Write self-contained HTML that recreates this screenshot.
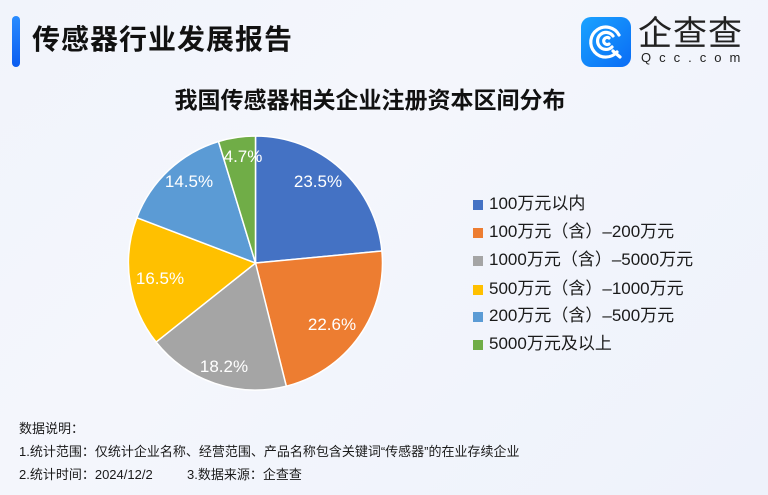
<!DOCTYPE html>
<html><head><meta charset="utf-8">
<style>
html,body{margin:0;padding:0}
body{width:768px;height:495px;overflow:hidden;position:relative;
background:linear-gradient(135deg,#f1f4fb 0%,#f4f6fc 40%,#eef2fb 100%);
font-family:"Liberation Sans","Noto Sans CJK SC",sans-serif;color:#111}
.t{position:absolute;white-space:nowrap}
.leg{position:absolute;left:473px;font-size:17px;color:#1a1a1a}
.leg i{position:absolute;left:0;top:5px;width:10px;height:10px}
.leg span{position:absolute;left:16px;top:-1px;white-space:nowrap;line-height:20px}
</style></head><body>
<div style="position:absolute;left:12px;top:16px;width:8px;height:51px;border-radius:4px;background:linear-gradient(#2a8cff,#0a5cf0)"></div>
<div class="t" style="left:32px;top:20px;font-size:28px;font-weight:bold;letter-spacing:1px;line-height:40px">传感器行业发展报告</div>

<div style="position:absolute;left:581px;top:17px;width:50px;height:50px;border-radius:10px;background:linear-gradient(135deg,#1aa3ff,#0a6cf5)">
<svg width="50" height="50" viewBox="0 0 50 50"><g fill="none" stroke="#fff" stroke-width="3.2" stroke-linecap="round">
<path d="M36 35 A15 15 0 1 1 38 18"/><path d="M31 30 A8.5 8.5 0 1 1 32 19"/><path d="M28 27 A3.5 3.5 0 1 1 28 21"/><path d="M32 34 L39 40"/></g></svg></div>
<div class="t" style="left:638px;top:14px;font-size:34px;line-height:40px;color:#222;letter-spacing:1px">企查查</div>
<div class="t" style="left:641px;top:50px;font-size:13px;line-height:16px;color:#222;letter-spacing:8px">Qcc.com</div>

<div class="t" style="left:120px;top:86px;width:500px;text-align:center;font-size:23px;font-weight:bold;line-height:28px">我国传感器相关企业注册资本区间分布</div>

<svg style="position:absolute;left:0;top:0" width="768" height="495">
<g stroke="#fff" stroke-width="1.5" stroke-linejoin="round">
<path d="M255.5 263 L255.5 136 A127 127 0 0 1 381.9 251 Z" fill="#4472C4"/>
<path d="M255.5 263 L381.9 251 A127 127 0 0 1 286.3 386.2 Z" fill="#ED7D31"/>
<path d="M255.5 263 L286.3 386.2 A127 127 0 0 1 156.1 342.1 Z" fill="#A5A5A5"/>
<path d="M255.5 263 L156.1 342.1 A127 127 0 0 1 136.8 217.7 Z" fill="#FFC000"/>
<path d="M255.5 263 L136.8 217.7 A127 127 0 0 1 218.5 141.5 Z" fill="#5B9BD5"/>
<path d="M255.5 263 L218.5 141.5 A127 127 0 0 1 255.5 136 Z" fill="#70AD47"/>
</g>
<g fill="#fff" font-size="17" font-family="Liberation Sans,sans-serif" text-anchor="middle">
<text x="318" y="187">23.5%</text>
<text x="332" y="330">22.6%</text>
<text x="224" y="372">18.2%</text>
<text x="160" y="284">16.5%</text>
<text x="189" y="187">14.5%</text>
<text x="243" y="162">4.7%</text>
</g>
</svg>

<div class="leg" style="top:195px"><i style="background:#4472C4"></i><span>100万元以内</span></div>
<div class="leg" style="top:223px"><i style="background:#ED7D31"></i><span>100万元（含）–200万元</span></div>
<div class="leg" style="top:251px"><i style="background:#A5A5A5"></i><span>1000万元（含）–5000万元</span></div>
<div class="leg" style="top:280px"><i style="background:#FFC000"></i><span>500万元（含）–1000万元</span></div>
<div class="leg" style="top:307px"><i style="background:#5B9BD5"></i><span>200万元（含）–500万元</span></div>
<div class="leg" style="top:335px"><i style="background:#70AD47"></i><span>5000万元及以上</span></div>

<div class="t" style="left:19px;top:420px;font-size:13px;line-height:18px;color:#1a1a1a">数据说明：</div>
<div class="t" style="left:19px;top:443px;font-size:13px;line-height:18px;color:#1a1a1a">1.统计范围：仅统计企业名称、经营范围、产品名称包含关键词“传感器”的在业存续企业</div>
<div class="t" style="left:19px;top:466px;font-size:13px;line-height:18px;color:#1a1a1a">2.统计时间：2024/12/2</div>
<div class="t" style="left:187px;top:466px;font-size:13px;line-height:18px;color:#1a1a1a">3.数据来源：企查查</div>
</body></html>
